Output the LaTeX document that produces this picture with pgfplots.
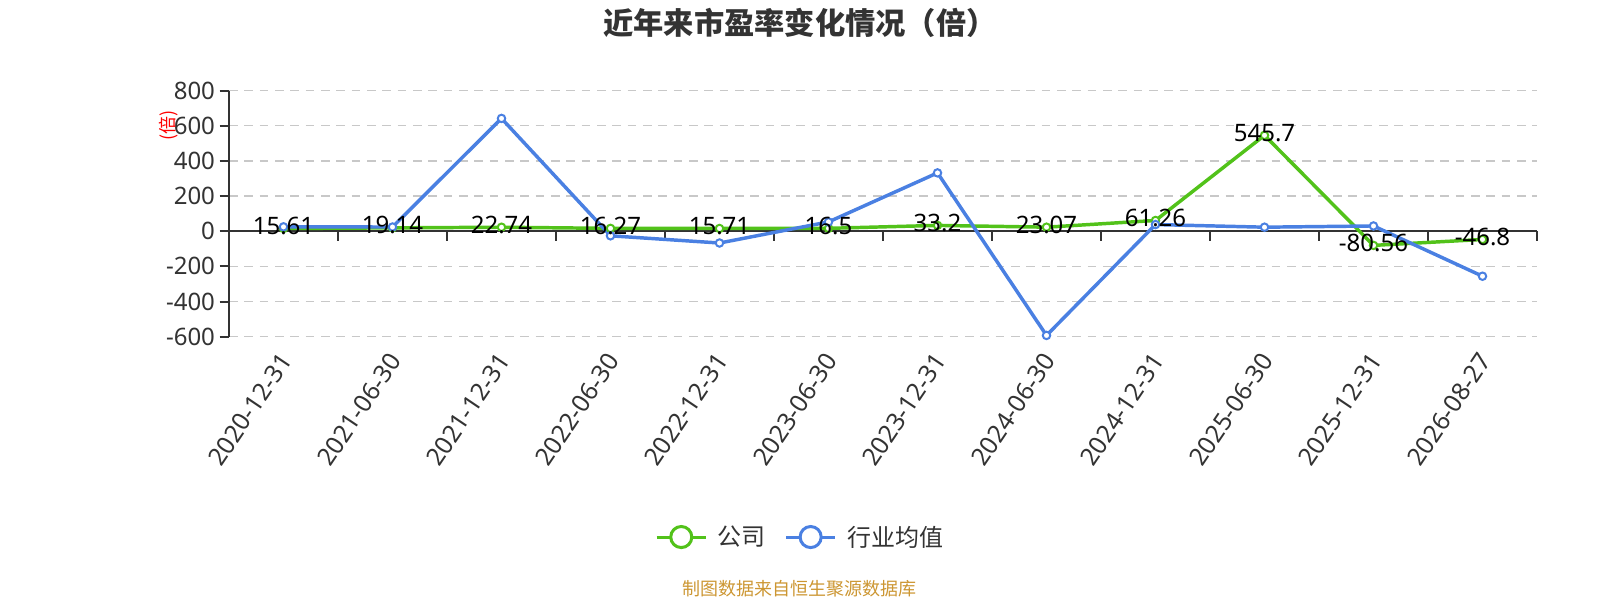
\documentclass[border=0pt]{standalone}
\usepackage{pgfplots}
\pgfplotsset{compat=1.18}
\usepackage{fontspec}
\setmainfont{Noto Sans}
\newfontfamily\cjk{Noto Sans CJK SC}
\definecolor{cgreen}{RGB}{82,194,26}
\definecolor{cblue}{RGB}{74,128,226}
\definecolor{ctext}{HTML}{333333}
\definecolor{cgrid}{HTML}{C8C8C8}
\definecolor{cfoot}{RGB}{204,150,50}
\begin{document}
\begin{tikzpicture}
\useasboundingbox (0,0) rectangle (1200pt,450pt);
% zero line with category boundary ticks
\begin{axis}[
  at={(171.75pt,197.5pt)}, anchor=south west, scale only axis,
  width=981pt, height=184.5pt,
  xmin=-0.5, xmax=11.5, ymin=-600, ymax=800,
  axis x line=middle, axis y line=none,
  axis line style={-, draw=ctext, line width=1.5pt},
  xtick={-0.5,0.5,...,11.5}, xticklabels={},
  xtick align=outside, major tick length=7pt,
  xtick style={draw=ctext, line width=1.5pt},
  ytick=\empty,
]
\end{axis}
\begin{axis}[
  at={(171.75pt,197.5pt)}, anchor=south west, scale only axis,
  width=981pt, height=184.5pt,
  xmin=-0.5, xmax=11.5, ymin=-600, ymax=800,
  axis x line*=bottom, axis y line*=left,
  x axis line style={draw=none},
  y axis line style={-, draw=ctext, line width=1.5pt},
  xtick={0,...,11},
  xticklabels={2020-12-31,2021-06-30,2021-12-31,2022-06-30,2022-12-31,2023-06-30,2023-12-31,2024-06-30,2024-12-31,2025-06-30,2025-12-31,2026-08-27},
  xtick style={draw=none},
  ytick={-600,-400,-200,200,400,600,800},
  yticklabels={-600,-400,-200,200,400,600,800},
  extra y ticks={0}, extra y tick labels={0},
  extra y tick style={grid=none},
  ytick style={draw=ctext, line width=1.5pt},
  tick align=outside, major tick length=7pt,
  ymajorgrids, major grid style={cgrid, line width=1pt, dash pattern=on 6.5pt off 5pt},
  tick label style={font=\fontsize{18}{20}\selectfont, text=ctext},
  x tick label style={xshift=2pt, yshift=-7.5pt, rotate=56, anchor=east, inner sep=0pt, font=\fontsize{18.5}{20}\selectfont},
  ylabel={\cjk (倍)},
  every axis y label/.style={at={(rel axis cs:0,0.86)}, xshift=-45pt, rotate=90, anchor=center, text=red, font=\fontsize{13.5}{15}\selectfont},
  legend columns=2,
  legend style={at={(0.437,-0.8145)}, anchor=center, draw=none, fill=none,
    font=\cjk\fontsize{18}{20}\selectfont, text=ctext,
    /tikz/every odd column/.append style={column sep=6pt},
    /tikz/every even column/.append style={column sep=12pt}},
]
\addplot[cgreen, line width=2.6pt, mark=*, mark size=2.8pt,
  mark options={solid, fill=white, draw=cgreen, line width=1.5pt},
  legend image code/.code={
    \draw[cgreen, line width=2.3pt] (0pt,0pt) -- (36.75pt,0pt);
    \draw[cgreen, line width=2.25pt, fill=white] (18.4pt,0pt) circle (7.9pt);}]
  coordinates {(0,15.61) (1,19.14) (2,22.74) (3,16.27) (4,15.71) (5,16.5) (6,33.2) (7,23.07) (8,61.26) (9,545.7) (10,-80.56) (11,-46.8)};
\addlegendentry{公司}
\addplot[cblue, line width=2.6pt, mark=*, mark size=2.8pt,
  mark options={solid, fill=white, draw=cblue, line width=1.5pt},
  legend image code/.code={
    \draw[cblue, line width=2.3pt] (0pt,0pt) -- (36.75pt,0pt);
    \draw[cblue, line width=2.25pt, fill=white] (18.4pt,0pt) circle (7.9pt);}]
  coordinates {(0,25) (1,24) (2,642) (3,-26) (4,-67) (5,53) (6,332) (7,-593) (8,38) (9,23) (10,30) (11,-256)};
\addlegendentry{行业均值}
\addplot[draw=none, mark=none, forget plot, nodes near coords, point meta=explicit symbolic,
  every node near coord/.append style={anchor=center, yshift=2pt, inner sep=0pt, text=black, font=\fontsize{18}{20}\selectfont}]
  coordinates {(0,15.61)[15.61] (1,19.14)[19.14] (2,22.74)[22.74] (3,16.27)[16.27] (4,15.71)[15.71] (5,16.5)[16.5] (6,33.2)[33.2] (7,23.07)[23.07] (8,61.26)[61.26] (9,545.7)[545.7] (10,-80.56)[-80.56] (11,-46.8)[-46.8]};
\end{axis}
\node[font=\cjk\bfseries\fontsize{22.7}{26}\selectfont, text=ctext] at (600pt,433pt) {近年来市盈率变化情况（倍）};
\node[font=\cjk\fontsize{13.5}{15}\selectfont, text=cfoot] at (599.6pt,8.25pt) {制图数据来自恒生聚源数据库};
\end{tikzpicture}
\end{document}
